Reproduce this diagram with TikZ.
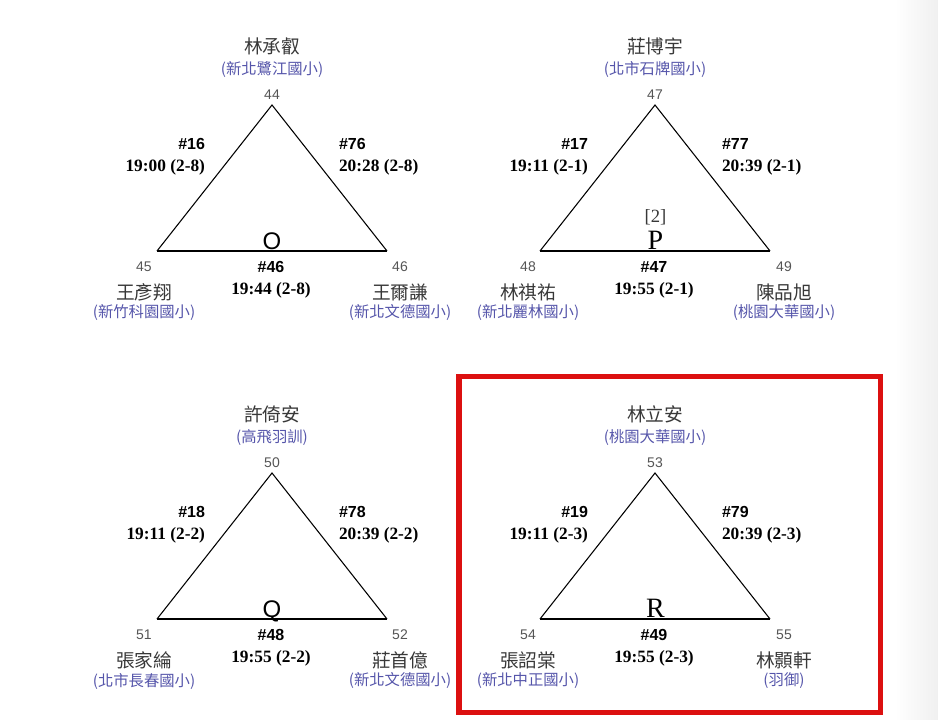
\documentclass[tikz,border=0pt]{standalone}
\usepackage{fontspec}
\setmainfont{Liberation Serif}
\setsansfont{Liberation Sans}
\newfontfamily\cjk{Noto Sans CJK TC}
\usetikzlibrary{calc}
\definecolor{numgray}{HTML}{555555}
\definecolor{namegray}{HTML}{383838}
\definecolor{schoolblue}{RGB}{85,85,170}
\definecolor{boxred}{RGB}{220,16,16}
\definecolor{edgegray}{RGB}{240,240,240}
\tikzset{
  every node/.style={inner sep=0pt, outer sep=0pt},
  numlbl/.style={font=\sffamily\fontsize{10.5}{12}\selectfont, text=numgray},
  namelbl/.style={font=\cjk\fontsize{14}{16}\selectfont, text=namegray},
  schlbl/.style={font=\cjk\fontsize{11.5}{14}\selectfont, text=schoolblue},
  mnum/.style={font=\sffamily\bfseries\fontsize{12}{14}\selectfont},
  mtime/.style={font=\rmfamily\bfseries\fontsize{13}{15}\selectfont},
  grpS/.style={font=\sffamily\fontsize{18}{20}\selectfont, anchor=base},
  grpR/.style={font=\rmfamily\fontsize{21}{23}\selectfont, anchor=base},
  seedlbl/.style={font=\rmfamily\fontsize{14}{16}\selectfont, text=namegray},
  sideline/.style={draw=black, line width=0.8pt, line join=miter},
  bottomline/.style={draw=black, line width=1.9pt},
  redframe/.style={draw=boxred, line width=3.8pt},
}
% triangle: #1 id, #2 apex x, #3 apex y
\newcommand\Tri[3]{%
  \coordinate (#1A) at (#2,#3);
  \coordinate (#1L) at (#2-115,#3+146);
  \coordinate (#1R) at (#2+115,#3+146);
  \draw[sideline] (#1L) -- (#1A) -- (#1R);
  \draw[bottomline] (#1L) -- (#1R);
}
% top player: #1 id, #2 x, #3 apex y, #4 number, #5 name, #6 school
\newcommand\TopSeat[6]{%
  \node[numlbl] (#1n) at (#2,#3-10) {#4};
  \node[namelbl] (#1p) at (#2,#3-59) {#5};
  \node[schlbl] (#1s) at (#2,#3-35) {#6};
}
% bottom player: #1 id, #2 x, #3 apex y, #4 number, #5 name, #6 school
\newcommand\BotSeat[6]{%
  \node[numlbl] (#1n) at (#2,#3+162) {#4};
  \node[namelbl] (#1p) at (#2,#3+187) {#5};
  \node[schlbl] (#1s) at (#2,#3+208) {#6};
}
% match label: #1 id, #2 x, #3 y, #4 anchor, #5 number, #6 time
\newcommand\MatchLbl[6]{%
  \node[mnum, anchor=#4] (#1a) at (#2,#3) {#5};
  \node[mtime, anchor=#4] (#1b) at (#2,#3+23) {#6};
}
\begin{document}
\begin{tikzpicture}[x=0.75pt, y=-0.75pt]
  \useasboundingbox (0,0) rectangle (938,720);
  \shade[left color=white, right color=edgegray] (895,0) rectangle (938,720);

  % ---------- group O ----------
  \Tri{o}{272}{105}
  \TopSeat{o1}{272}{105}{44}{林承叡}{(新北鷺江國小)}
  \BotSeat{o2}{144}{105}{45}{王彥翔}{(新竹科園國小)}
  \BotSeat{o3}{400}{105}{46}{王爾謙}{(新北文德國小)}
  \MatchLbl{om1}{205}{144}{east}{\#16}{19:00 (2-8)}
  \MatchLbl{om2}{339}{144}{west}{\#76}{20:28 (2-8)}
  \MatchLbl{om3}{271}{267}{center}{\#46}{19:44 (2-8)}
  \node[grpS] (og) at (272,249.5) {O};

  % ---------- group P ----------
  \Tri{p}{655}{105}
  \TopSeat{p1}{655}{105}{47}{莊博宇}{(北市石牌國小)}
  \BotSeat{p2}{528}{105}{48}{林祺祐}{(新北麗林國小)}
  \BotSeat{p3}{784}{105}{49}{陳品旭}{(桃園大華國小)}
  \MatchLbl{pm1}{588}{144}{east}{\#17}{19:11 (2-1)}
  \MatchLbl{pm2}{722}{144}{west}{\#77}{20:39 (2-1)}
  \MatchLbl{pm3}{654}{267}{center}{\#47}{19:55 (2-1)}
  \node[seedlbl] (pseed) at (655.5,217) {[2]};
  \node[grpR] (pg) at (655.5,249) {P};

  % ---------- group Q ----------
  \Tri{q}{272}{473}
  \TopSeat{q1}{272}{473}{50}{許倚安}{(高飛羽訓)}
  \BotSeat{q2}{144}{473}{51}{張家綸}{(北市長春國小)}
  \BotSeat{q3}{400}{473}{52}{莊首億}{(新北文德國小)}
  \MatchLbl{qm1}{205}{512}{east}{\#18}{19:11 (2-2)}
  \MatchLbl{qm2}{339}{512}{west}{\#78}{20:39 (2-2)}
  \MatchLbl{qm3}{271}{635}{center}{\#48}{19:55 (2-2)}
  \node[grpS] (qg) at (272,617.5) {Q};

  % ---------- group R ----------
  \Tri{r}{655}{473}
  \TopSeat{r1}{655}{473}{53}{林立安}{(桃園大華國小)}
  \BotSeat{r2}{528}{473}{54}{張詔棠}{(新北中正國小)}
  \BotSeat{r3}{784}{473}{55}{林顥軒}{(羽御)}
  \MatchLbl{rm1}{588}{512}{east}{\#19}{19:11 (2-3)}
  \MatchLbl{rm2}{722}{512}{west}{\#79}{20:39 (2-3)}
  \MatchLbl{rm3}{654}{635}{center}{\#49}{19:55 (2-3)}
  \node[grpR] (rg) at (655.5,617) {R};

  \draw[redframe] (459,376.7) rectangle (880.7,712.5);
\end{tikzpicture}
\end{document}
